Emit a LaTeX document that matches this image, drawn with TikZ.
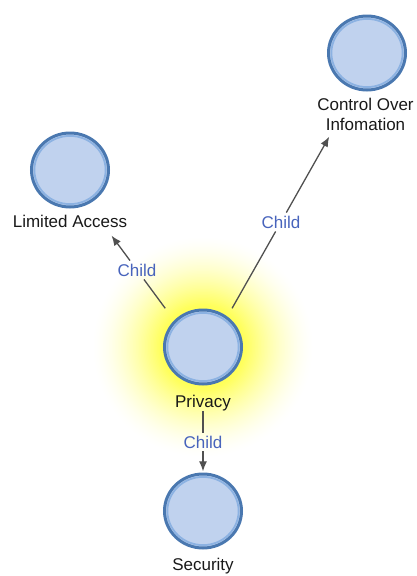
\documentclass[tikz,border=0pt]{standalone}
\usepackage{fontspec}
\setmainfont{Liberation Sans}
\usetikzlibrary{shapes.geometric,arrows.meta,fit}
\definecolor{vfill}{RGB}{192,210,238}
\definecolor{vborder}{RGB}{74,120,176}
\definecolor{vring}{RGB}{140,178,226}
\definecolor{edgecol}{RGB}{80,80,80}
\definecolor{childblue}{RGB}{72,100,188}
\definecolor{labcol}{RGB}{25,25,25}
\definecolor{glowY}{RGB}{255,255,90}
\tikzset{
  vtx/.style={ellipse, draw=vborder, line width=3pt, fill=vfill,
    minimum width=77pt, minimum height=74pt, inner sep=0pt,
    path picture={\draw[vring, line width=1.8pt]
      (path picture bounding box.center) ellipse [x radius=35.6pt, y radius=34.1pt];}},
  vlab/.style={inner sep=0pt, text=labcol, font=\fontsize{17}{20}\selectfont},
  vbox/.style={inner sep=0pt, draw=none},
  elab/.style={inner sep=3pt, text=childblue, font=\fontsize{17}{20}\selectfont},
  edge/.style={draw=edgecol, line width=1.3pt},
  arr/.style={-{Latex[length=10pt,width=8pt]}}
}
\begin{document}
\begin{tikzpicture}[x=1pt,y=-1pt]
\useasboundingbox (0,0) rectangle (417,576);
% glow
\foreach \r in {112,110.5,...,38}{
  \pgfmathsetmacro\gp{100*(min(1,(112-\r)/70))^1.6}
  \fill[glowY!\gp!white] (203,347) circle (\r);
}
% vertices
\node[vtx] (priv) at (203,347) {};
\node[vlab, anchor=base] (privl) at (203,407) {Privacy};
\node[vtx] (la) at (70,170) {};
\node[vlab, anchor=base] (lal) at (70,227) {Limited Access};
\node[vtx] (co) at (367,53) {};
\node[vlab, anchor=north, align=center] (col) at (365.5,97.5) {Control Over\\Infomation};
\node[vtx] (sec) at (203,511) {};
\node[vlab, anchor=base] (secl) at (203,570) {Security};
% vertex boxes
\node[vbox, fit=(priv)(privl)] (pv) {};
\node[vbox, fit=(la)(lal)] (lav) {};
\node[vbox, fit=(co)(col)] (cov) {};
\node[vbox, fit=(sec)(secl)] (secv) {};
% edge labels
\node[elab] (c1) at (137,270) {Child};
\node[elab] (c2) at (281,222) {Child};
\node[elab] (c3) at (203,442) {Child};
% edges
\draw[edge] (pv) -- (c1);
\draw[edge, arr, shorten >=10pt] (c1) -- (lav);
\draw[edge] (pv) -- (c2);
\draw[edge, arr, shorten >=7pt] (c2) -- (cov);
\draw[edge] (pv) -- (c3);
\draw[edge, arr, shorten >=1pt] (c3) -- (secv);
\end{tikzpicture}
\end{document}
